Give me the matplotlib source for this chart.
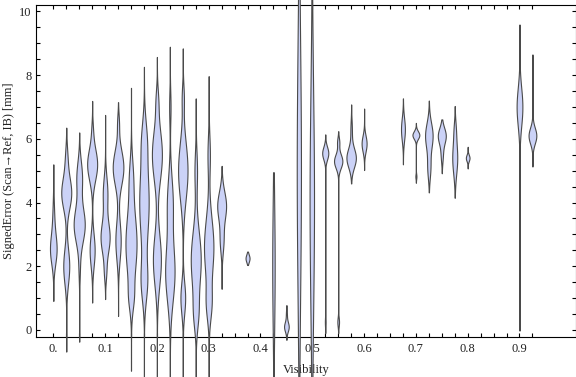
import numpy as np
import matplotlib
matplotlib.use("Agg")
import matplotlib.pyplot as plt

# ---- data ----
visibility = [0.000, 0.025, 0.050, 0.075, 0.100, 0.125, 0.150, 0.175, 0.200, 0.225,
              0.250, 0.275, 0.300, 0.325, 0.375, 0.425, 0.450, 0.475, 0.500, 0.525,
              0.550, 0.575, 0.600, 0.675, 0.700, 0.725, 0.750, 0.775, 0.800, 0.900,
              0.925]
err_min = [0.91, -0.68, -0.37, 0.86, 0.97, 0.44, -1.28, -1.6, -1.6, -1.6,
           -1.6, -1.6, -1.6, 1.29, 2.04, -1.6, -0.31, -1.6, -1.6, -0.10,
           -0.10, 4.60, 5.02, 5.20, 4.62, 4.32, 4.92, 4.15, 5.07, -0.02,
           5.13]
err_max = [5.20, 6.35, 6.20, 7.19, 6.75, 7.15, 7.60, 8.26, 8.57, 8.89,
           8.84, 7.27, 7.97, 5.15, 2.46, 4.95, 0.78, 10.6, 10.6, 6.14,
           6.24, 7.08, 6.95, 7.27, 6.50, 7.20, 6.61, 7.03, 5.75, 9.59,
           8.65]
# relative peak density (width) of each distribution
peak_density = [0.60, 0.90, 1.00, 0.90, 0.82, 0.96, 1.00, 0.85, 0.90, 0.85,
                0.85, 0.90, 0.85, 0.80, 0.36, 0.22, 0.42, 0.38, 0.40, 0.55,
                0.75, 0.85, 0.45, 0.35, 0.62, 0.68, 0.72, 0.45, 0.33, 0.52,
                0.70]
# density modes (centre, spread, weight) of each distribution
density_modes = [
    [(2.5, 0.45, 1.0), (3.4, 0.6, 0.3)],
    [(4.3, 0.5, 1.0), (2.0, 0.55, 0.6), (5.4, 0.4, 0.2)],
    [(3.3, 0.55, 1.0), (4.8, 0.5, 0.5), (1.9, 0.4, 0.1)],
    [(5.2, 0.5, 1.0), (2.5, 0.5, 0.5), (6.3, 0.3, 0.1)],
    [(2.9, 0.5, 1.0), (4.3, 0.5, 0.5), (1.8, 0.3, 0.2)],
    [(5.1, 0.55, 1.0), (2.8, 0.6, 0.5), (6.5, 0.3, 0.15)],
    [(2.7, 1.0, 1.0), (1.0, 0.4, 0.3), (4.8, 0.6, 0.3)],
    [(4.0, 1.2, 1.0), (1.5, 0.6, 0.6), (6.0, 0.6, 0.4)],
    [(5.5, 0.8, 1.0), (2.2, 0.8, 0.8), (7.2, 0.4, 0.2)],
    [(1.8, 0.9, 1.0), (4.0, 0.8, 0.6), (7.0, 0.5, 0.15)],
    [(5.0, 0.9, 1.0), (1.0, 0.5, 0.5), (7.3, 0.4, 0.2)],
    [(2.2, 0.9, 1.0), (5.0, 0.6, 0.25), (0.5, 0.5, 0.4)],
    [(2.6, 0.9, 1.0), (0.8, 0.5, 0.5), (5.5, 0.6, 0.25)],
    [(3.9, 0.45, 1.0), (2.8, 0.4, 0.4)],
    [(2.25, 0.12, 1.0)],
    [(2.0, 2.0, 1.0)],
    [(0.1, 0.15, 1.0), (0.5, 0.15, 0.2)],
    [(5.0, 4.0, 1.0)],
    [(4.0, 3.5, 1.0)],
    [(5.55, 0.2, 1.0), (0.25, 0.15, 0.12)],
    [(5.3, 0.22, 1.0), (5.9, 0.15, 0.25), (0.25, 0.15, 0.2)],
    [(5.4, 0.3, 1.0), (6.3, 0.3, 0.15)],
    [(5.85, 0.25, 1.0)],
    [(6.3, 0.35, 1.0)],
    [(6.12, 0.12, 1.0), (4.82, 0.08, 0.15)],
    [(6.1, 0.4, 1.0), (5.1, 0.35, 0.4)],
    [(6.1, 0.25, 1.0), (5.5, 0.25, 0.25)],
    [(5.4, 0.5, 1.0), (6.3, 0.3, 0.3)],
    [(5.4, 0.1, 1.0)],
    [(7.0, 0.6, 1.0), (1.0, 0.5, 0.06)],
    [(6.1, 0.25, 1.0), (7.4, 0.4, 0.08)],
]
x_tick_values = [0.0, 0.1, 0.2, 0.3, 0.4, 0.5, 0.6, 0.7, 0.8, 0.9]
x_tick_labels = ["0.", "0.1", "0.2", "0.3", "0.4", "0.5", "0.6", "0.7", "0.8", "0.9"]
y_tick_values = [0, 2, 4, 6, 8, 10]

# ---- styling ----
plt.rcParams['font.family'] = ['Liberation Serif', 'DejaVu Serif']
FILL = (0.798, 0.825, 0.968)
EDGE = '#4a4a4a'
MAX_HALF_WIDTH = 0.0107

fig = plt.figure(figsize=(5.76, 3.77), dpi=100)
ax = fig.add_axes([36 / 576, 1 - 337.3 / 377, (575.7 - 36) / 576, (337.3 - 4.7) / 377])

for pos, lo, hi, pk, modes in zip(visibility, err_min, err_max, peak_density, density_modes):
    y = np.linspace(lo, hi, 400)
    d = np.zeros_like(y)
    for mu, s, w in modes:
        d += w * np.exp(-0.5 * ((y - mu) / s) ** 2)
    d = d / d.max()
    hw = d * pk * MAX_HALF_WIDTH
    ax.fill_betweenx(y, pos - hw, pos + hw, facecolor=FILL, edgecolor=EDGE,
                     linewidth=0.8, clip_on=False, zorder=3)

ax.set_xlim(-0.0334, 1.0085)
ax.set_ylim(-0.23, 10.21)

ax.set_xticks(x_tick_values)
ax.set_xticklabels(x_tick_labels)
ax.set_xticks(np.arange(0, 0.93, 0.025), minor=True)
ax.set_yticks(y_tick_values)
ax.set_yticks(np.arange(0, 10.01, 0.5), minor=True)

for which in ('major', 'minor'):
    ax.tick_params(axis='both', which=which, direction='in', length=3.2, width=0.8,
                   top=True, right=True, color='black')
ax.tick_params(axis='x', which='major', pad=4, labelsize=9, labelcolor='#222222')
ax.tick_params(axis='y', which='major', pad=3, labelsize=9, labelcolor='#222222')

for sp in ax.spines.values():
    sp.set_linewidth(0.8)
    sp.set_color('black')

ax.set_xlabel("Visibility", fontsize=9, labelpad=6.5, color='#222222')
ax.set_ylabel("SignedError (Scan\u2192Ref, IB) [mm]", fontsize=9, labelpad=3, color='#222222')

fig.savefig("out.png", dpi=100)
